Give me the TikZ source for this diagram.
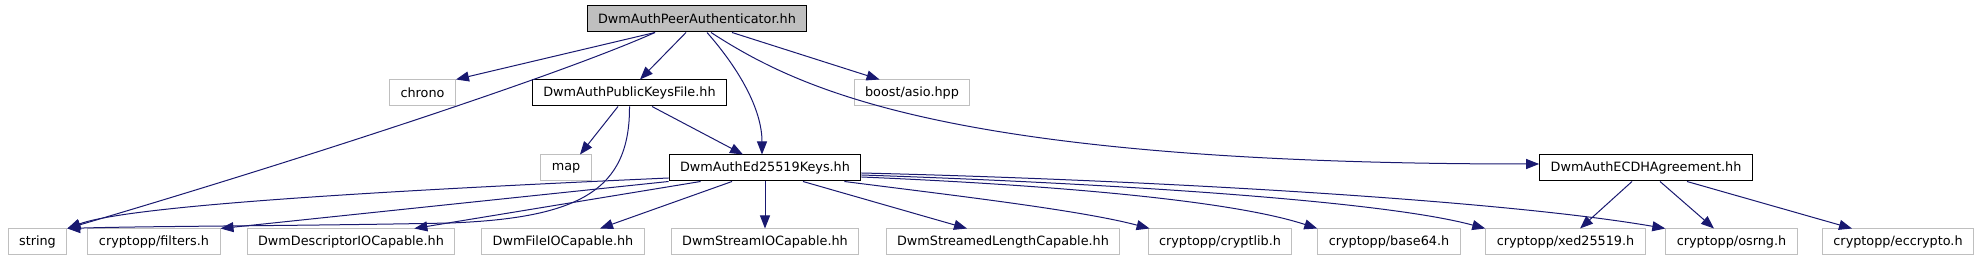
\documentclass[tikz,border=0pt]{standalone}
\usepackage{fontspec}
\setmainfont{DejaVu Sans}
\usepackage{tikz}
\usetikzlibrary{arrows.meta}
\definecolor{dwmedge}{HTML}{191970}
\definecolor{dwmgray}{HTML}{BFBFBF}

\begin{document}
\begin{tikzpicture}[
  x=1pt, y=-1pt,
  every node/.style={font=\fontsize{12.8}{15}\selectfont},
  file/.style={draw, line width=1pt, fill=white, inner xsep=11pt, inner ysep=0pt,
               minimum height=26pt},
  ext/.style={file, draw=dwmgray},
  own/.style={file, draw=black},
  top/.style={own, fill=dwmgray},
  dep/.style={-{Triangle[length=13pt,width=10pt]}, draw=dwmedge, line width=1pt}
]
  \useasboundingbox (0,0) rectangle (1975,261);

  \node[top] (peer) at (697,19) {DwmAuthPeerAuthenticator.hh};
  \node[ext] (chrono) at (422.5,93) {chrono};
  \node[own] (pubkeys) at (629.5,93) {DwmAuthPublicKeysFile.hh};
  \node[ext] (asio) at (912,93) {boost/asio.hpp};
  \node[ext] (map) at (566,168) {map};
  \node[own] (ed) at (765,168) {DwmAuthEd25519Keys.hh};
  \node[own] (ecdh) at (1646,168) {DwmAuthECDHAgreement.hh};
  \node[ext] (string) at (37.5,242) {string};
  \node[ext] (filters) at (154,242) {cryptopp/filters.h};
  \node[ext] (descio) at (351,242) {DwmDescriptorIOCapable.hh};
  \node[ext] (fileio) at (563,242) {DwmFileIOCapable.hh};
  \node[ext] (streamio) at (765,242) {DwmStreamIOCapable.hh};
  \node[ext] (streamlen) at (1003,242) {DwmStreamedLengthCapable.hh};
  \node[ext] (cryptlib) at (1220,242) {cryptopp/cryptlib.h};
  \node[ext] (base64) at (1389,242) {cryptopp/base64.h};
  \node[ext] (xed) at (1565.5,242) {cryptopp/xed25519.h};
  \node[ext] (osrng) at (1731.5,242) {cryptopp/osrng.h};
  \node[ext] (eccrypto) at (1898,242) {cryptopp/eccrypto.h};

  \draw[dep] ([xshift=-42pt]peer.south) -- (chrono.north east);
  \draw[dep] ([xshift=-42pt]peer.south) .. controls (560,75) and (300,160) .. (string.north east);
  \draw[dep] ([xshift=-11pt]peer.south) -- ([xshift=10.5pt]pubkeys.north);
  \draw[dep] ([xshift=10pt]peer.south) .. controls (740,70) and (762,110) .. ([xshift=-3pt]ed.north);
  \draw[dep] ([xshift=35pt]peer.south) -- ([xshift=26pt]asio.north west);
  \draw[dep] ([xshift=14pt]peer.south) .. controls (800,90) and (950,164) .. ([yshift=4pt]ecdh.west);

  \draw[dep] ([xshift=-11.5pt]pubkeys.south) -- ([xshift=14pt]map.north);
  \draw[dep] ([xshift=22.5pt]pubkeys.south) -- ([xshift=-22pt]ed.north);
  \draw[dep] (pubkeys.south) .. controls (630,190) and (580,218) .. (450,223)
    .. controls (300,226) and (150,226) .. (string.north east);

  \draw[dep] ([yshift=-10pt]ed.west) .. controls (400,190) and (130,205) .. (string.north east);
  \draw[dep] (ed.south west) -- (filters.north east);
  \draw[dep] ([xshift=32pt]ed.south west) -- ([xshift=-41pt]descio.north east);
  \draw[dep] ([xshift=-33pt]ed.south) -- ([xshift=37pt]fileio.north);
  \draw[dep] (ed.south) -- (streamio.north);
  \draw[dep] ([xshift=38pt]ed.south) -- ([xshift=-36pt]streamlen.north);
  \draw[dep] ([xshift=-17pt]ed.south east) .. controls (950,195) and (1080,210) .. ([xshift=2pt]cryptlib.north west);
  \draw[dep] ([yshift=-9pt]ed.east) .. controls (1050,185) and (1230,200) .. (base64.north west);
  \draw[dep] ([yshift=-7pt]ed.east) .. controls (1100,183) and (1380,200) .. (xed.north west);
  \draw[dep] ([yshift=-5pt]ed.east) .. controls (1150,180) and (1500,200) .. (osrng.north west);

  \draw[dep] ([xshift=-14pt]ecdh.south) -- ([xshift=14.5pt]xed.north);
  \draw[dep] ([xshift=14pt]ecdh.south) -- ([xshift=-17.5pt]osrng.north);
  \draw[dep] ([xshift=41pt]ecdh.south) -- ([xshift=-46pt]eccrypto.north);
\end{tikzpicture}
\end{document}
